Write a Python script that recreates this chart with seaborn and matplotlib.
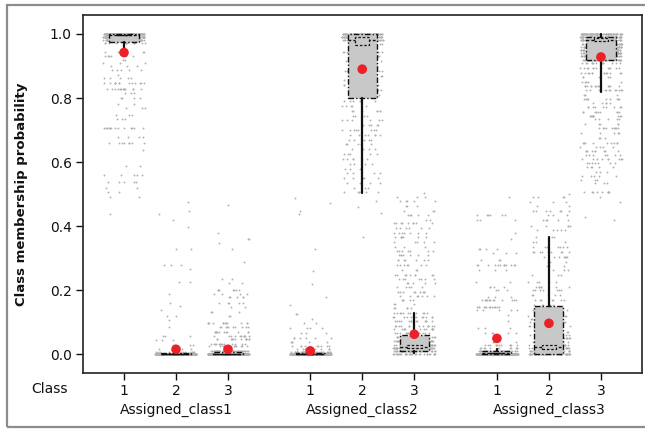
import numpy as np
import pandas as pd
import matplotlib
matplotlib.use("Agg")
import matplotlib.pyplot as plt
import matplotlib.patches as mpatches
import matplotlib.transforms as mtransforms
import seaborn as sns

# x positions of the nine columns (three classes inside each assigned group)
positions = [0, 1, 2, 3.58, 4.58, 5.58, 7.17, 8.17, 9.17]
class_labels = ["1", "2", "3"] * 3
group_labels = ["Assigned_class1", "Assigned_class2", "Assigned_class3"]

# individual values: probability levels and how many dots sit on each
g1c1_y = [1.0, 0.99, 0.98, 0.973, 0.945, 0.93, 0.92, 0.91, 0.90, 0.888, 0.872, 0.862, 0.848, 0.828,
          0.815, 0.80, 0.78, 0.77, 0.747, 0.734, 0.706, 0.678, 0.66, 0.638, 0.588, 0.559, 0.537,
          0.52, 0.506, 0.49, 0.437]
g1c1_n = [150, 120, 60, 12, 7, 6, 2, 3, 3, 5, 1, 5, 13, 13, 3, 4, 2, 3, 3, 3, 13, 4, 8, 1, 2, 5, 5,
          2, 2, 2, 1]
g1c2_y = [0.476, 0.448, 0.437, 0.419, 0.397, 0.33, 0.278, 0.265, 0.226, 0.19, 0.16, 0.15, 0.14,
          0.119, 0.106, 0.085, 0.056, 0.044, 0.028, 0.018, 0.006, 0.0]
g1c2_n = [1, 1, 1, 1, 1, 2, 3, 1, 2, 1, 1, 1, 1, 2, 1, 1, 3, 3, 4, 5, 13, 300]
g1c3_y = [0.465, 0.378, 0.359, 0.347, 0.328, 0.288, 0.236, 0.222, 0.2, 0.19, 0.178, 0.16, 0.147,
          0.131, 0.119, 0.097, 0.085, 0.069, 0.056, 0.047, 0.034, 0.025, 0.012, 0.0]
g1c3_n = [1, 1, 2, 1, 1, 1, 2, 2, 7, 4, 5, 5, 2, 3, 2, 12, 10, 12, 11, 13, 13, 13, 40, 300]
g2c1_y = [0.487, 0.472, 0.447, 0.437, 0.33, 0.26, 0.219, 0.178, 0.153, 0.125, 0.112, 0.097, 0.081,
          0.066, 0.05, 0.038, 0.025, 0.016, 0.006, 0.0]
g2c1_n = [1, 1, 1, 1, 1, 1, 1, 1, 1, 2, 1, 2, 4, 3, 6, 5, 9, 13, 40, 300]
g2c2_y = [1.0, 0.99, 0.98, 0.97, 0.96, 0.945, 0.93, 0.915, 0.90, 0.885, 0.87, 0.855, 0.84, 0.825,
          0.81, 0.79, 0.775, 0.76, 0.745, 0.73, 0.715, 0.70, 0.685, 0.67, 0.655, 0.64, 0.625, 0.61,
          0.595, 0.58, 0.565, 0.55, 0.535, 0.52, 0.506, 0.48, 0.46, 0.44, 0.366]
g2c2_n = [80, 60, 40, 12, 10, 9, 9, 8, 9, 8, 9, 8, 9, 8, 8, 6, 5, 7, 4, 6, 5, 8, 7, 6, 5, 4, 5, 6,
          4, 3, 4, 5, 4, 3, 6, 1, 1, 1, 1]
g2c3_y = [0.503, 0.49, 0.478, 0.463, 0.447, 0.434, 0.42, 0.409, 0.394, 0.378, 0.366, 0.35, 0.334,
          0.322, 0.309, 0.294, 0.278, 0.263, 0.247, 0.234, 0.222, 0.21, 0.194, 0.181, 0.169, 0.156,
          0.144, 0.128, 0.116, 0.103, 0.09, 0.078, 0.066, 0.053, 0.041, 0.03, 0.02, 0.01, 0.0]
g2c3_n = [1, 3, 5, 3, 3, 5, 2, 9, 6, 7, 7, 5, 3, 7, 7, 7, 7, 3, 9, 7, 5, 5, 9, 7, 5, 3, 5, 11, 12,
          13, 13, 13, 13, 30, 40, 40, 40, 40, 30]
g3c1_y = [0.49, 0.434, 0.419, 0.378, 0.359, 0.328, 0.316, 0.294, 0.278, 0.263, 0.225, 0.21, 0.2,
          0.178, 0.169, 0.147, 0.138, 0.122, 0.103, 0.081, 0.066, 0.04, 0.028, 0.019, 0.01, 0.0]
g3c1_n = [1, 6, 3, 1, 1, 4, 3, 3, 13, 3, 2, 4, 3, 3, 13, 13, 5, 1, 1, 3, 5, 3, 12, 12, 40, 300]
g3c2_y = [0.5, 0.49, 0.475, 0.463, 0.447, 0.434, 0.419, 0.4, 0.388, 0.366, 0.35, 0.334, 0.319,
          0.303, 0.288, 0.275, 0.263, 0.247, 0.225, 0.21, 0.2, 0.184, 0.169, 0.153, 0.14, 0.13,
          0.12, 0.11, 0.10, 0.09, 0.08, 0.07, 0.06, 0.05, 0.04, 0.03, 0.02, 0.01, 0.0]
g3c2_n = [1, 4, 3, 2, 7, 3, 5, 5, 5, 3, 3, 7, 9, 7, 3, 3, 3, 3, 5, 7, 7, 5, 7, 5, 9, 9, 9, 9, 9, 9,
          9, 9, 9, 9, 9, 30, 30, 30, 60]
g3c3_y = [1.0, 0.99, 0.98, 0.97, 0.96, 0.95, 0.94, 0.93, 0.92, 0.909, 0.894, 0.878, 0.866, 0.85,
          0.837, 0.825, 0.81, 0.797, 0.784, 0.772, 0.756, 0.744, 0.734, 0.719, 0.706, 0.691, 0.675,
          0.66, 0.647, 0.634, 0.622, 0.609, 0.597, 0.584, 0.569, 0.556, 0.544, 0.534, 0.506, 0.49,
          0.475, 0.43, 0.42]
g3c3_n = [80, 80, 80, 60, 60, 60, 50, 50, 40, 13, 13, 13, 5, 5, 13, 13, 3, 9, 5, 9, 9, 9, 5, 5, 9,
          5, 3, 9, 5, 9, 7, 9, 7, 5, 3, 5, 3, 3, 9, 1, 1, 1, 1]

# box summaries and means as drawn in the picture
q1 = [0.975, 0.0, 0.0, 0.0, 0.80, 0.010, 0.0, 0.0, 0.919]
median = [0.997, 0.0, 0.001, 0.0, 0.98, 0.023, 0.003, 0.023, 0.982]
q3 = [1.0, 0.004, 0.006, 0.004, 1.0, 0.059, 0.011, 0.151, 0.990]
whisker_lo = [0.955, 0.0, 0.0, 0.0, 0.503, 0.003, 0.0, 0.0, 0.82]
whisker_hi = [1.0, 0.010, 0.015, 0.010, 1.0, 0.128, 0.018, 0.366, 1.0]
ci_lo = [0.997, 0.0, 0.001, 0.0, 0.966, 0.019, 0.003, 0.016, 0.978]
ci_hi = [0.997, 0.0, 0.001, 0.0, 0.990, 0.028, 0.003, 0.030, 0.986]
means = [0.942, 0.016, 0.016, 0.011, 0.890, 0.063, 0.050, 0.097, 0.928]

levels = [g1c1_y, g1c2_y, g1c3_y, g2c1_y, g2c2_y, g2c3_y, g3c1_y, g3c2_y, g3c3_y]
counts = [g1c1_n, g1c2_n, g1c3_n, g2c1_n, g2c2_n, g2c3_n, g3c1_n, g3c2_n, g3c3_n]

frames = []
for pos, ys, ns in zip(positions, levels, counts):
    vals = np.repeat(ys, ns)
    frames.append(pd.DataFrame({"pos": pos, "prob": vals}))
df = pd.concat(frames, ignore_index=True)

sns.set_theme(style="ticks")
plt.rcParams["font.family"] = ["DejaVu Sans"]
np.random.seed(3)

fig = plt.figure(figsize=(6.45, 4.29), dpi=100)
ax = fig.add_axes([0.1287, 0.1298, 0.8659, 0.8352])

# gray individual values, jittered sideways like the original
sns.stripplot(data=df, x="pos", y="prob", native_scale=True, orient="x", jitter=0.4,
              size=1.35, color="#b0b0b0", linewidth=0, ax=ax, zorder=1)

edge = "#111111"
dash = (0, (4, 1.5, 1, 1.5))
stats = []
ci_stats = []
for i in range(len(positions)):
    stats.append({"q1": q1[i], "med": median[i], "q3": q3[i],
                  "whislo": whisker_lo[i], "whishi": whisker_hi[i], "fliers": []})
    ci_stats.append({"q1": ci_lo[i], "med": median[i], "q3": ci_hi[i],
                     "whislo": ci_lo[i], "whishi": ci_hi[i], "fliers": []})

ax.bxp(stats, positions=positions, widths=0.56, patch_artist=True, showfliers=False,
       showcaps=False, manage_ticks=False, zorder=3,
       boxprops=dict(facecolor="#c8c8c8", edgecolor=edge, linewidth=1.0, linestyle=dash),
       medianprops=dict(color=edge, linewidth=1.0, linestyle=(0, (2, 1.5))),
       whiskerprops=dict(color=edge, linewidth=1.6))
# median confidence interval boxes
ax.bxp(ci_stats, positions=positions, widths=0.28, patch_artist=True, showfliers=False,
       showcaps=False, manage_ticks=False, zorder=3.5,
       boxprops=dict(facecolor="#c8c8c8", edgecolor=edge, linewidth=0.9, linestyle=(0, (2, 1.5))),
       medianprops=dict(linewidth=0), whiskerprops=dict(linewidth=0))

sns.scatterplot(x=positions, y=means, s=48, color="#ec2027", edgecolor="none", ax=ax, zorder=5)

ax.set_xlim(-0.788, 9.95)
ax.set_ylim(-0.059, 1.059)
ax.set_xticks(positions)
ax.set_xticklabels(class_labels)
ax.set_yticks([0.0, 0.2, 0.4, 0.6, 0.8, 1.0])
ax.set_yticklabels(["0.0", "0.2", "0.4", "0.6", "0.8", "1.0"])
ax.tick_params(axis="both", direction="out", length=5, width=1.0, colors="#111111",
               labelsize=10, pad=3)
ax.set_xlabel("")
ax.set_ylabel("Class membership probability", fontsize=9.5, fontweight="bold", color="#111111")
ax.yaxis.set_label_coords(-0.098, 0.5)
for sp in ax.spines.values():
    sp.set_color("#222222")
    sp.set_linewidth(1.2)

fig.text(50 / 645, 1 - 389 / 429, "Class", ha="center", va="center", fontsize=10, color="#111111")
group_tf = mtransforms.blended_transform_factory(ax.transData, fig.transFigure)
for k, lab in enumerate(group_labels):
    ax.text(positions[3 * k + 1], 1 - 410 / 429, lab, ha="center", va="center", fontsize=10,
            color="#111111", transform=group_tf)

# gray frame around the whole figure (cut off on the right in the original)
fig.patches.append(mpatches.Rectangle((7 / 645, 2 / 429), 1.2, 1 - 6.7 / 429,
                                      transform=fig.transFigure, fill=False,
                                      edgecolor="#8c8c8c", linewidth=1.6))

fig.savefig("out.png", dpi=100)
